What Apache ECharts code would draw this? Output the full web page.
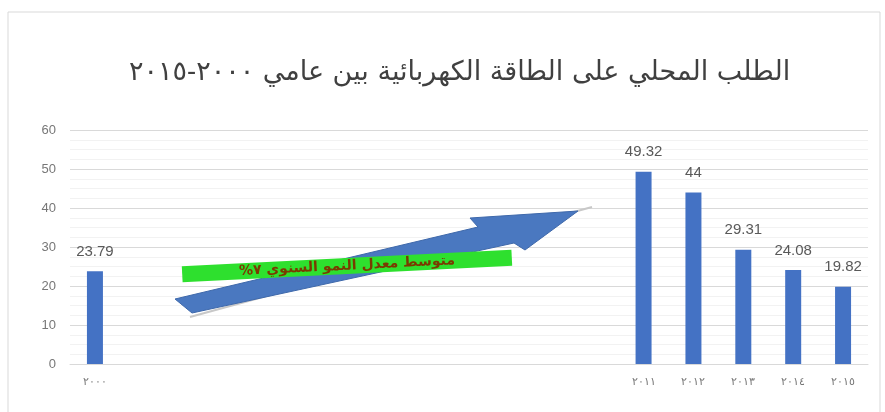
<!DOCTYPE html>
<html><head><meta charset="utf-8">
<script src="https://cdn.jsdelivr.net/npm/echarts@6/dist/echarts.min.js"></script>
<style>html,body{margin:0;padding:0;background:#fff}#c{width:885px;height:412px}</style>
</head><body><div id="c"></div>
<script>
var years = ['2000','2001','2002','2003','2004','2005','2006','2007','2008','2009','2010','2011','2012','2013','2014','2015'];
var tickLabels = ['٢٠٠٠','','','','','','','','','','','٢٠١١','٢٠١٢','٢٠١٣','٢٠١٤','٢٠١٥'];
var demand = [23.79,null,null,null,null,null,null,null,null,null,null,49.32,44,29.31,24.08,19.82];
var yTicks = [0,10,20,30,40,50,60];

var chart = echarts.init(document.getElementById('c'));
chart.setOption({
  animation:false,
  title:{text:'الطلب المحلي على الطاقة الكهربائية بين عامي ٢٠٠٠-٢٠١٥',left:124,top:54,
    textStyle:{fontFamily:'DejaVu Serif, DejaVu Sans, serif',fontSize:27,fontWeight:'normal',color:'#404040'}},
  grid:{left:70,right:17,top:130,bottom:48},
  xAxis:{type:'category',data:years,
    axisLine:{lineStyle:{color:'#d9d9d9'}},axisTick:{show:false},
    axisLabel:{interval:0,color:'#777',fontSize:11,margin:12,formatter:function(v,i){return tickLabels[i];}}},
  yAxis:{type:'value',min:yTicks[0],max:yTicks[yTicks.length-1],interval:10,
    axisLine:{show:false},axisTick:{show:false},
    axisLabel:{color:'#777',fontSize:13,margin:14,fontFamily:'Liberation Sans, Arial'},
    splitLine:{lineStyle:{color:'#d9d9d9'}},
    minorTick:{show:false,splitNumber:4},
    minorSplitLine:{show:true,lineStyle:{color:'#f2f2f2'}}},
  series:[{type:'bar',data:demand,barWidth:16,itemStyle:{color:'#4472C4'},
    label:{show:true,position:'top',distance:12,color:'#595959',fontSize:15,fontFamily:'Liberation Sans, Arial'}}],
  graphic:[
    {type:'rect',z:100,shape:{x:8,y:12,width:872,height:410},style:{fill:'none',stroke:'#d9d9d9',lineWidth:1},silent:true},
    {type:'polyline',z:100,shape:{points:[[190,317],[592,207]]},style:{stroke:'#c8c8c8',lineWidth:2}},
    {type:'polygon',z:101,shape:{points:[[175,299],[478,227],[470,218],[578,211],[525,250],[514,243],[192,313]]},
      style:{fill:'#4a78c0',stroke:'#3e68aa',lineWidth:1}},
    {type:'group',z:102,x:347,y:266,rotation:0.05,children:[
      {type:'rect',z:102,shape:{x:-165,y:-8,width:330,height:16},style:{fill:'#2ee02e'}},
      {type:'text',z:103,style:{text:'متوسط معدل النمو السنوي ٧%\u200F',x:0,y:0,align:'center',verticalAlign:'middle',
        fill:'#7a3a00',font:'bold 14px DejaVu Sans'}}
    ]}
  ]
});
</script></body></html>
